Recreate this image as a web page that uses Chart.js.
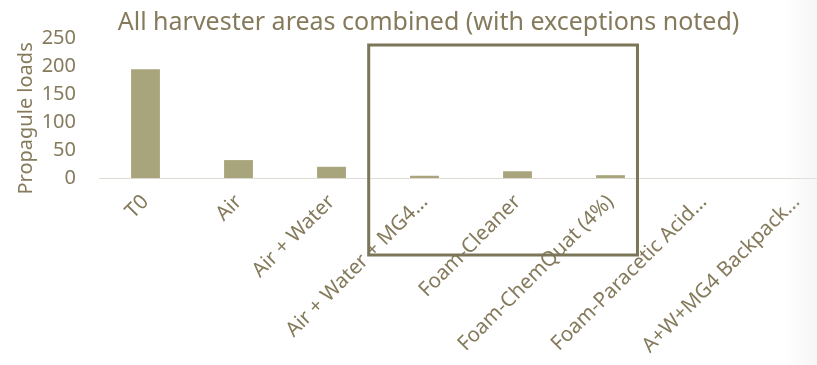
<!DOCTYPE html>
<html>
<head>
<meta charset="utf-8">
<script src="https://cdn.jsdelivr.net/npm/chart.js@4"></script>
<style>
  html, body { margin: 0; padding: 0; background: #fff; overflow: hidden; }
  #wrap { position: relative; width: 843px; height: 365px; }
  #edge {
    position: absolute; top: 0; left: 785px; width: 32px; height: 365px;
    background: linear-gradient(to right, rgba(235,235,235,0), rgba(235,235,235,0.45));
    pointer-events: none;
  }
</style>
</head>
<body>
<div id="wrap"><canvas id="myChart"></canvas></div>
<div id="edge"></div>
<script>
let categories = [
  "T0",
  "Air",
  "Air + Water",
  "Air + Water + MG4…",
  "Foam-Cleaner",
  "Foam-ChemQuat (4%)",
  "Foam-Paracetic Acid…",
  "A+W+MG4 Backpack…",
];
let loads = [194, 32, 20, 4, 12, 5, 0, 0];
let yTicks = [0, 50, 100, 150, 200, 250];

let textColor = "#857b5c";
let barColor = "#a8a47c";
let fontName = "Noto Sans";

// outlined box around the foam treatments (category / value units)
let boxFrom = 2.4;
let boxTo = 5.29;
let boxTop = 237.5;
let boxBottom = -137.5;

const boxPlugin = {
  id: "box",
  afterDraw(chart) {
    let x = chart.scales.x;
    let y = chart.scales.y;
    let ctx = chart.ctx;
    ctx.save();
    ctx.strokeStyle = "#7b7657";
    ctx.lineWidth = 3;
    let l = x.getPixelForValue(boxFrom);
    let r = x.getPixelForValue(boxTo);
    let t = y.getPixelForValue(boxTop);
    let b = y.getPixelForValue(boxBottom);
    ctx.strokeRect(l, t, r - l, b - t);
    ctx.restore();
  },
};

let myChart = document.getElementById("myChart").getContext("2d");

var chart = new Chart(myChart, {
  type: "bar",
  data: {
    labels: categories,
    datasets: [
      {
        label: "Propagule loads",
        data: loads,
        backgroundColor: barColor,
        categoryPercentage: 1,
        barPercentage: 0.31,
      },
    ],
  },
  options: {
    responsive: true,
    maintainAspectRatio: false,
    animation: false,
    layout: { padding: { left: 14, right: 0, top: 0, bottom: 0 } },
    plugins: {
      legend: { display: false },
      tooltip: { enabled: false },
      title: {
        display: true,
        text: "All harvester areas combined (with exceptions noted)",
        color: textColor,
        font: { family: fontName, size: 25, weight: "normal" },
        padding: { top: 8, bottom: 0 },
      },
    },
    scales: {
      x: {
        grid: { display: false },
        border: { display: true, color: "#dedcd2", width: 1 },
        ticks: {
          color: textColor,
          font: { family: fontName, size: 20.5 },
          maxRotation: 45,
          minRotation: 45,
          autoSkip: false,
          padding: 4,
        },
        afterFit(scale) {
          scale.height = 187;
        },
      },
      y: {
        min: 0,
        max: 250,
        afterBuildTicks(scale) {
          scale.ticks = yTicks.map((v) => ({ value: v }));
        },
        grid: { display: false, drawTicks: false },
        border: { display: false },
        ticks: {
          color: textColor,
          font: { family: fontName, size: 20 },
          padding: 23,
        },
        title: {
          display: true,
          // trailing spaces nudge the centred title down the axis
          text: "Propagule loads    ",
          color: textColor,
          font: { family: fontName, size: 20 },
          padding: { top: 0, bottom: 0 },
        },
        afterFit(scale) {
          scale.width = 85;
        },
      },
    },
  },
  plugins: [boxPlugin],
});
</script>
</body>
</html>
